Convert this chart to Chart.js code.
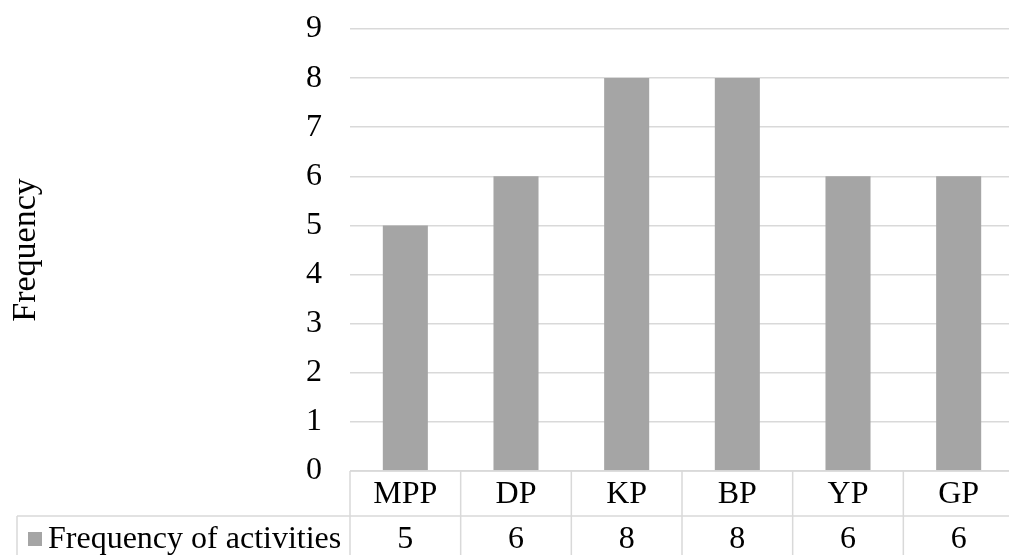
<!DOCTYPE html>
<html>
<head>
<meta charset="utf-8">
<script src="https://cdn.jsdelivr.net/npm/chart.js@4/dist/chart.umd.min.js"></script>
<style>
  html, body { margin: 0; padding: 0; background: #fff; overflow: hidden; }
  #wrap { width: 1014px; height: 561px; }
</style>
</head>
<body>
<div id="wrap"><canvas id="chart1"></canvas></div>
<script>
let categories = ['MPP', 'DP', 'KP', 'BP', 'YP', 'GP'];
let frequencyValues = [5, 6, 8, 8, 6, 6];
let seriesLabel = 'Frequency of activities';
let axisTitle = 'Frequency';
let yMin = 0, yMax = 9, yStep = 1;

const FONT = '"Liberation Serif", "Times New Roman", serif';
const GRID = '#d9d9d9';
const BAR = '#a5a5a5';

// draws the data table (category row + value row) under the plot
const dataTablePlugin = {
  id: 'dataTable',
  afterDraw(chart) {
    const ctx = chart.ctx;
    const area = chart.chartArea;
    const xs = chart.scales.x;
    const colW = (area.right - area.left) / categories.length;
    const top = area.bottom;
    const rowH = 45;
    const mid = top + rowH;
    const bottom = mid + rowH;
    const tableLeft = 17;

    ctx.save();
    ctx.strokeStyle = GRID;
    ctx.lineWidth = 1.5;
    ctx.beginPath();
    ctx.moveTo(area.left, top); ctx.lineTo(area.right, top);
    ctx.moveTo(tableLeft, mid); ctx.lineTo(area.right, mid);
    ctx.moveTo(tableLeft, bottom); ctx.lineTo(area.right, bottom);
    ctx.moveTo(tableLeft, mid); ctx.lineTo(tableLeft, bottom);
    for (let i = 0; i <= categories.length; i++) {
      const x = area.left + i * colW;
      ctx.moveTo(x, top); ctx.lineTo(x, bottom);
    }
    ctx.stroke();

    ctx.fillStyle = '#000';
    ctx.font = '32px ' + FONT;
    ctx.textAlign = 'center';
    ctx.textBaseline = 'middle';
    for (let i = 0; i < categories.length; i++) {
      const cx = xs.getPixelForValue(i);
      ctx.fillText(categories[i], cx, top + rowH / 2 + 1);
      ctx.fillText(String(frequencyValues[i]), cx, mid + rowH / 2 + 1);
    }

    // legend key and series name
    ctx.fillStyle = BAR;
    ctx.fillRect(28, 532, 14, 14);
    ctx.fillStyle = '#000';
    ctx.textAlign = 'left';
    ctx.fillText(seriesLabel, 48, mid + rowH / 2 + 1);
    ctx.restore();
  }
};

var ctx = document.getElementById('chart1').getContext('2d');
var myChart = new Chart(ctx, {
  type: 'bar',
  data: {
    labels: categories,
    datasets: [{
      label: seriesLabel,
      data: frequencyValues,
      backgroundColor: BAR,
      borderWidth: 0,
      barPercentage: 0.407,
      categoryPercentage: 1,
    }]
  },
  options: {
    responsive: true,
    maintainAspectRatio: false,
    animation: false,
    layout: { padding: { top: 29, right: 0, bottom: 90, left: 0 } },
    plugins: {
      legend: { display: false },
      tooltip: { enabled: false },
    },
    scales: {
      x: { display: false },
      y: {
        min: yMin,
        max: yMax,
        ticks: {
          stepSize: yStep,
          color: '#000',
          padding: 28,
          font: { family: FONT, size: 32 },
        },
        grid: { color: GRID, lineWidth: 1.5, drawTicks: false },
        border: { display: false },
        title: {
          display: true,
          text: axisTitle,
          color: '#000',
          font: { family: FONT, size: 34 },
          padding: { top: 6, bottom: 0 },
        },
        afterFit(scale) {
          scale.width = 350;
          scale.paddingTop = 0;
          scale.paddingBottom = 0;
        },
      }
    }
  },
  plugins: [dataTablePlugin],
});
</script>
</body>
</html>
